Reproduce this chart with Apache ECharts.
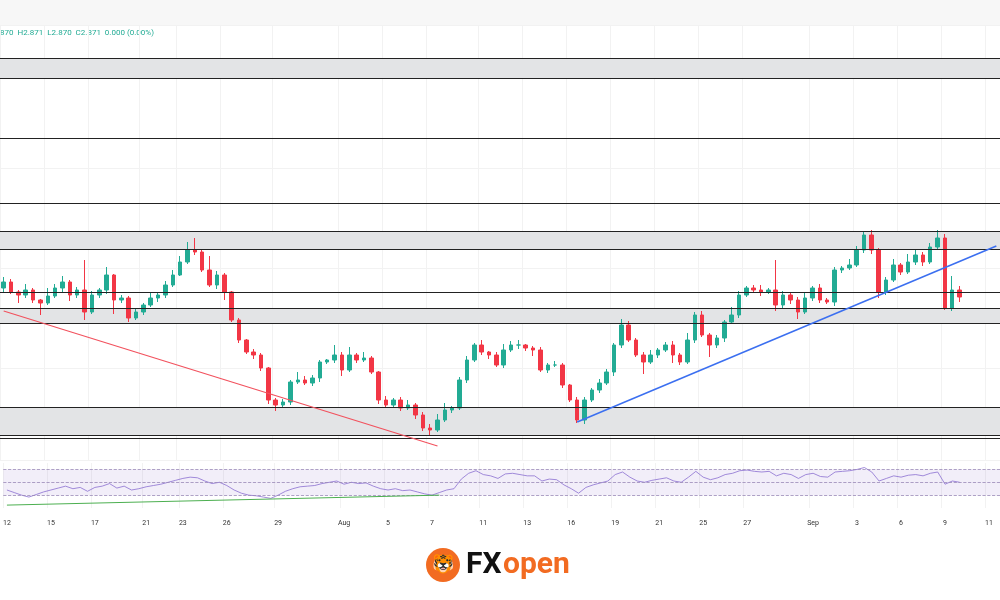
<!DOCTYPE html>
<html><head><meta charset="utf-8">
<script src="https://cdn.jsdelivr.net/npm/echarts@6/dist/echarts.min.js"></script>
<style>html,body{margin:0;padding:0;background:#fff}#c{width:1000px;height:600px}</style>
</head><body><div id="c"></div>
<script>
const closes=[2.886,2.876,2.873,2.878,2.868,2.865,2.872,2.880,2.886,2.873,2.878,2.856,2.873,2.878,2.893,2.868,2.870,2.850,2.856,2.863,2.870,2.873,2.883,2.893,2.906,2.918,2.916,2.898,2.883,2.893,2.876,2.848,2.828,2.816,2.813,2.800,2.768,2.763,2.766,2.786,2.788,2.785,2.790,2.806,2.808,2.813,2.798,2.813,2.808,2.810,2.796,2.768,2.763,2.768,2.760,2.763,2.753,2.740,2.738,2.748,2.758,2.760,2.788,2.808,2.823,2.816,2.813,2.803,2.818,2.823,2.823,2.820,2.818,2.798,2.803,2.803,2.783,2.768,2.748,2.768,2.778,2.785,2.796,2.823,2.843,2.828,2.813,2.806,2.813,2.818,2.823,2.813,2.806,2.828,2.853,2.833,2.823,2.830,2.846,2.853,2.873,2.880,2.878,2.876,2.878,2.863,2.873,2.868,2.856,2.870,2.880,2.868,2.866,2.898,2.900,2.903,2.918,2.933,2.918,2.876,2.888,2.903,2.896,2.906,2.913,2.906,2.921,2.930,2.860,2.878,2.871];
const firstOpen=2.880;
const wickHi=[5,3,2,6,2,1,8,4,6,2,3,30,4,2,8,1,3,2,4,2,6,3,4,5,6,8,12,3,14,4,2,1,2,1,3,2,1,2,3,2,8,4,3,2,1,10,3,8,2,6,2,1,4,2,3,5,2,3,4,6,7,2,3,4,2,5,1,3,6,4,5,1,2,3,2,4,2,1,3,3,2,4,3,2,6,4,2,3,5,2,3,4,2,7,3,4,2,3,2,8,4,2,3,5,2,30,4,2,3,5,2,4,2,3,2,6,4,3,5,2,3,6,2,8,6,3,4,8,4,14,4];
const wickLo=[4,2,8,3,3,12,2,2,4,6,3,8,2,3,4,14,3,4,2,3,2,4,3,2,1,2,3,2,2,4,8,2,3,2,4,3,4,6,2,3,2,2,3,4,2,3,6,2,3,2,2,4,3,2,3,2,4,3,6,2,2,3,2,3,2,3,4,2,3,2,4,3,6,2,3,2,3,2,3,4,2,3,2,4,3,2,2,12,2,3,2,8,3,2,3,2,12,3,4,2,3,2,3,4,2,6,3,4,7,2,3,3,2,4,3,2,2,3,4,6,3,2,3,2,3,4,2,2,2,3,5];
const rsi=[38,34,30,27,31,35,38,41,44,40,42,36,42,44,48,41,44,38,40,43,45,47,50,53,56,58,57,52,48,50,45,38,33,30,29,27,25,30,36,40,43,44,45,48,50,52,47,50,48,49,44,40,38,40,37,38,35,32,30,34,38,40,55,64,68,62,60,56,63,64,62,60,60,52,55,54,46,40,33,42,46,49,52,62,66,58,52,50,53,55,57,52,50,58,67,58,54,57,62,64,68,69,67,66,67,60,64,62,56,62,64,59,58,66,67,68,70,73,66,52,56,60,58,61,62,60,64,66,47,52,50];
const tickLabels={0:'12',6:'15',12:'17',19:'21',24:'23',30:'26',37:'29',46:'Aug',52:'5',58:'7',65:'11',71:'13',77:'16',83:'19',89:'21',95:'25',101:'27',110:'Sep',116:'3',122:'6',128:'9',134:'11'};
const levels=[3.110,3.090,3.030,2.965,2.937,2.919,2.876,2.860,2.845,2.761,2.733,2.730];
const bands=[[3.110,3.090],[2.937,2.919],[2.860,2.845],[2.761,2.733]];
const redLine=[[0,2.857],[59,2.722]];
const blueLine=[[78,2.746],[135,2.922]];
const greenLine=[[0,14.5],[59,30]];

const N=136;
const cats=[];for(let i=0;i<N;i++)cats.push(String(i));
const ohlc=closes.map((c,i)=>{const o=i?closes[i-1]:firstOpen;return [o,c,Math.min(o,c)-wickLo[i]/1000,Math.max(o,c)+wickHi[i]/1000];});
const isTick=i=>tickLabels[i]!==undefined;
const ch=echarts.init(document.getElementById('c'));
ch.setOption({
 animation:false,
 graphic:[
  {type:'rect',shape:{x:0,y:0,width:1000,height:25},style:{fill:'#f7f7f7'}},
  {type:'rect',shape:{x:0,y:530,width:1000,height:70},style:{fill:'#fff'}},
  {type:'text',left:0,top:29,style:{text:'870  H2.871  L2.870  C2.871  0.000 (0.00%)',fill:'#22ab94',font:'8px Roboto'}},
  {type:'circle',shape:{cx:443,cy:565,r:17},style:{fill:'#f26b21'}},
  {type:'text',x:443,y:565,style:{text:'🐯',fill:'#fff',font:'18px Roboto',align:'center',verticalAlign:'middle'}},
  {type:'text',x:466,y:565,style:{text:'FX',fill:'#111',font:'bold 30px Roboto',verticalAlign:'middle'}},
  {type:'text',x:503,y:565,style:{text:'open',fill:'#f26b21',font:'bold 30px Roboto',verticalAlign:'middle'}}
 ],
 grid:[{left:0,right:0,top:25,height:435},{left:0,right:0,top:463,height:45}],
 xAxis:[
  {type:'category',data:cats,gridIndex:0,axisLine:{show:false},axisTick:{show:false},axisLabel:{show:false},splitLine:{show:true,interval:(i)=>isTick(i),lineStyle:{color:'#f2f2f2'}}},
  {type:'category',data:cats,gridIndex:1,axisLine:{show:false},axisTick:{show:false},splitLine:{show:true,interval:(i)=>isTick(i),lineStyle:{color:'#f2f2f2'}},
   axisLabel:{interval:(i)=>isTick(i),formatter:(v,i)=>tickLabels[i]||'',color:'#333',fontSize:7,margin:12,fontFamily:'Roboto'}}
 ],
 yAxis:[
  {type:'value',gridIndex:0,min:2.708,max:3.143,position:'right',axisLabel:{show:false},splitLine:{show:true,lineStyle:{color:'#f2f2f2'}},axisLine:{show:false}},
  {type:'value',gridIndex:1,min:10,max:80,axisLabel:{show:false},splitLine:{show:false},axisLine:{show:false}}
 ],
 series:[
  {type:'candlestick',xAxisIndex:0,yAxisIndex:0,data:ohlc,barWidth:4,
   itemStyle:{color:'#22ab94',color0:'#f23645',borderColor:'#22ab94',borderColor0:'#f23645'},
   markArea:{silent:true,itemStyle:{color:'#e3e4e6'},data:bands.map(b=>[{yAxis:b[0]},{yAxis:b[1]}])},
   markLine:{silent:true,precision:3,symbol:'none',label:{show:false},lineStyle:{type:'solid',color:'#222',width:1.2},
    data:levels.map(v=>({yAxis:v})).concat([
     [{coord:redLine[0],lineStyle:{color:'#f2525e',width:1.2}},{coord:redLine[1]}],
     [{coord:blueLine[0],lineStyle:{color:'#3b6ff0',width:1.5}},{coord:blueLine[1]}]
    ])}},
  {type:'line',xAxisIndex:1,yAxisIndex:1,data:rsi,symbol:'none',lineStyle:{color:'#8a6fd1',width:0.8},
   markArea:{silent:true,itemStyle:{color:'rgba(126,87,194,0.1)'},data:[[{yAxis:70},{yAxis:30}]]},
   markLine:{silent:true,symbol:'none',label:{show:false},lineStyle:{type:'dashed',color:'#9a8ab8',width:0.8},
    data:[{yAxis:70},{yAxis:50},{yAxis:30},[{coord:greenLine[0],lineStyle:{type:'solid',color:'#4caf50',width:1}},{coord:greenLine[1]}]]}}
 ]
});
</script></body></html>
